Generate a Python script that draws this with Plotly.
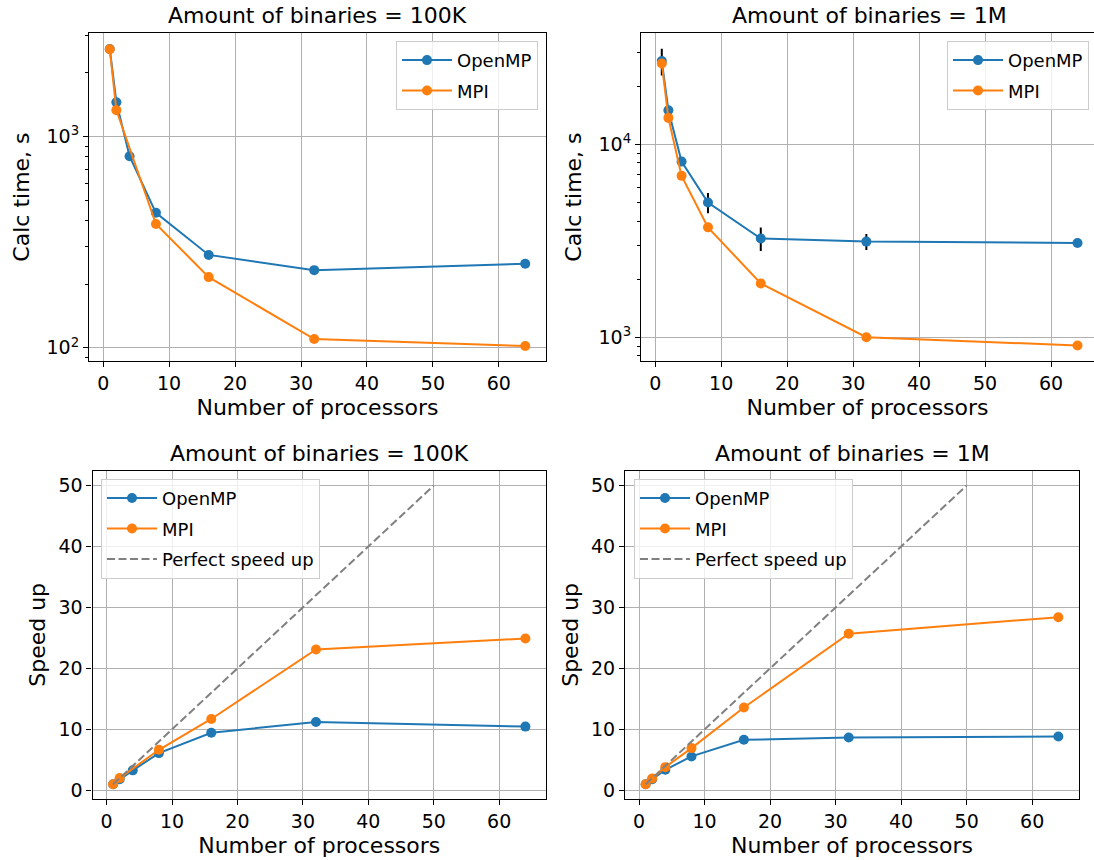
import plotly.graph_objects as go

# ---------------- data ----------------
procs = [1, 2, 4, 8, 16, 32, 64]
procs_mpi_100k = [1, 2, 8, 16, 32, 64]

time_omp_100k = [2590, 1450, 805, 435, 275, 233, 250]
time_mpi_100k = [2580, 1330, 385, 216, 110, 102]

time_omp_1m = [27000, 15000, 8130, 4990, 3250, 3130, 3080]
err_omp_1m = [4300, 500, 300, 600, 450, 300, 100]
time_mpi_1m = [26200, 13700, 6860, 3710, 1900, 1000, 906]

speed_omp_100k = [1.0, 1.8, 3.27, 6.1, 9.45, 11.2, 10.45]
speed_mpi_100k = [1.0, 2.0, 6.65, 11.7, 23.1, 24.9]

speed_omp_1m = [1.0, 1.8, 3.37, 5.56, 8.28, 8.67, 8.83]
speed_mpi_1m = [1.0, 1.95, 3.8, 6.92, 13.58, 25.7, 28.4]

perfect_procs = [1, 50]
perfect_speed = [1, 50]

titles = ["Amount of binaries = 100K", "Amount of binaries = 1M",
          "Amount of binaries = 100K", "Amount of binaries = 1M"]
log_tickvals_100k = [100, 1000]
log_ticktext_100k = ["10<sup>2</sup>", "10<sup>3</sup>"]
log_tickvals_1m = [1000, 10000]
log_ticktext_1m = ["10<sup>3</sup>", "10<sup>4</sup>"]

# ---------------- style ----------------
W, H = 1094, 860
BLUE = "#1f77b4"
ORANGE = "#ff7f0e"
GRAY = "#808080"
FONT = "DejaVu Sans"
TICK_SIZE = 19
LABEL_SIZE = 22
TITLE_SIZE = 22
LEG_SIZE = 18


def px_x(p):
    return p / W


def px_y(p):
    return 1 - p / H


fig = go.Figure()


def line_trace(x, y, name, color, xa, ya, leg, err=None):
    kw = dict(
        x=x, y=y, name=name, mode="lines+markers",
        line=dict(color=color, width=2),
        marker=dict(color=color, size=10),
        xaxis=xa, yaxis=ya, legend=leg, legendgroup=name + leg,
    )
    if err is not None:
        kw["error_y"] = dict(type="data", array=err, visible=True,
                             color="black", thickness=2, width=0)
    return go.Scatter(**kw)


# Top-left
fig.add_trace(line_trace(procs, time_omp_100k, "OpenMP", BLUE, "x", "y", "legend"))
fig.add_trace(line_trace(procs_mpi_100k, time_mpi_100k, "MPI", ORANGE, "x", "y", "legend"))
# Top-right
fig.add_trace(line_trace(procs, time_omp_1m, "OpenMP", BLUE, "x2", "y2", "legend2", err=err_omp_1m))
fig.add_trace(line_trace(procs, time_mpi_1m, "MPI", ORANGE, "x2", "y2", "legend2"))
# Bottom-left
fig.add_trace(line_trace(procs, speed_omp_100k, "OpenMP", BLUE, "x3", "y3", "legend3"))
fig.add_trace(line_trace(procs_mpi_100k, speed_mpi_100k, "MPI", ORANGE, "x3", "y3", "legend3"))
fig.add_trace(go.Scatter(x=perfect_procs, y=perfect_speed, name="Perfect speed up",
                         mode="lines", line=dict(color=GRAY, width=2, dash="8px,3.5px"),
                         xaxis="x3", yaxis="y3", legend="legend3",
                         legendgroup="perfect3"))
# Bottom-right
fig.add_trace(line_trace(procs, speed_omp_1m, "OpenMP", BLUE, "x4", "y4", "legend4"))
fig.add_trace(line_trace(procs, speed_mpi_1m, "MPI", ORANGE, "x4", "y4", "legend4"))
fig.add_trace(go.Scatter(x=perfect_procs, y=perfect_speed, name="Perfect speed up",
                         mode="lines", line=dict(color=GRAY, width=2, dash="8px,3.5px"),
                         xaxis="x4", yaxis="y4", legend="legend4",
                         legendgroup="perfect4"))

common_axis = dict(
    showline=True, linecolor="black", linewidth=1.2,
    ticks="outside", ticklen=5, tickwidth=1.2, tickcolor="black",
    showgrid=True, gridcolor="#b0b0b0", gridwidth=1,
    zeroline=False,
    tickfont=dict(family=FONT, size=TICK_SIZE, color="black"),
)


def xaxis(domain, yanchor, rng):
    return dict(
        common_axis, domain=domain, anchor=yanchor, range=rng,
        tickvals=[0, 10, 20, 30, 40, 50, 60], mirror=True,
        title=dict(text="Number of processors",
                   font=dict(family=FONT, size=LABEL_SIZE, color="black"),
                   standoff=6),
    )


def yaxis_log(domain, xanchor, rng, tv, tt, minor_vals, mirror=True):
    return dict(
        common_axis, domain=domain, anchor=xanchor, type="log", range=rng,
        tickvals=tv, ticktext=tt, mirror=mirror,
        minor=dict(tickvals=minor_vals, ticks="outside", ticklen=3,
                   tickwidth=1, tickcolor="black", showgrid=False),
        title=dict(text="Calc time, s",
                   font=dict(family=FONT, size=LABEL_SIZE, color="black"),
                   standoff=10),
    )


def yaxis_lin(domain, xanchor):
    return dict(
        common_axis, domain=domain, anchor=xanchor, range=[-1.45, 52.45],
        tickvals=[0, 10, 20, 30, 40, 50], mirror=True,
        title=dict(text="Speed up",
                   font=dict(family=FONT, size=LABEL_SIZE, color="black"),
                   standoff=6),
    )


minor_100k = [80, 90] + [v * 100 for v in range(2, 10)] + [2000, 3000]
minor_1m = [800, 900] + [v * 1000 for v in range(2, 10)] + [20000, 30000]

top_dom = [px_y(362), px_y(33)]
bot_dom = [px_y(801), px_y(471.7)]
tl_x = [px_x(89), px_x(546)]
tr_x = [px_x(641), 1.0]
bl_x = [px_x(92.5), px_x(546)]
br_x = [px_x(625), px_x(1079)]

legend_common = dict(
    bgcolor="rgba(255,255,255,0.8)", bordercolor="#cccccc", borderwidth=1,
    font=dict(family=FONT, size=LEG_SIZE, color="black"),
    tracegroupgap=4, itemwidth=50,
)

fig.update_layout(
    width=W, height=H,
    margin=dict(l=0, r=0, t=0, b=0),
    paper_bgcolor="white", plot_bgcolor="white",
    font=dict(family=FONT, color="black"),
    xaxis=xaxis(tl_x, "y", [-2.15, 67.15]),
    yaxis=yaxis_log(top_dom, "x", [1.937, 3.489], log_tickvals_100k, log_ticktext_100k, minor_100k),
    xaxis2=xaxis(tr_x, "y2", [-2.15, 66.5]),
    yaxis2=yaxis_log(top_dom, "x2", [2.876, 4.577], log_tickvals_1m, log_ticktext_1m, minor_1m, mirror=False),
    xaxis3=xaxis(bl_x, "y3", [-2.15, 67.15]),
    yaxis3=yaxis_lin(bot_dom, "x3"),
    xaxis4=xaxis(br_x, "y4", [-2.15, 67.15]),
    yaxis4=yaxis_lin(bot_dom, "x4"),
    legend=dict(legend_common, x=px_x(538), y=px_y(41), xanchor="right", yanchor="top"),
    legend2=dict(legend_common, x=px_x(1089), y=px_y(41), xanchor="right", yanchor="top"),
    legend3=dict(legend_common, x=px_x(101), y=px_y(480), xanchor="left", yanchor="top"),
    legend4=dict(legend_common, x=px_x(634), y=px_y(480), xanchor="left", yanchor="top"),
    showlegend=True,
)

# subplot titles
title_pos = [((89 + 546) / 2, 16), ((641 + 1097) / 2, 16),
             ((92.5 + 546) / 2, 455), ((625 + 1079) / 2, 455)]
for t, (cx, cy) in zip(titles, title_pos):
    fig.add_annotation(text=t, x=px_x(cx), y=px_y(cy), xref="paper", yref="paper",
                       xanchor="center", yanchor="middle", showarrow=False,
                       font=dict(family=FONT, size=TITLE_SIZE, color="black"))

fig.write_html("out.html")
